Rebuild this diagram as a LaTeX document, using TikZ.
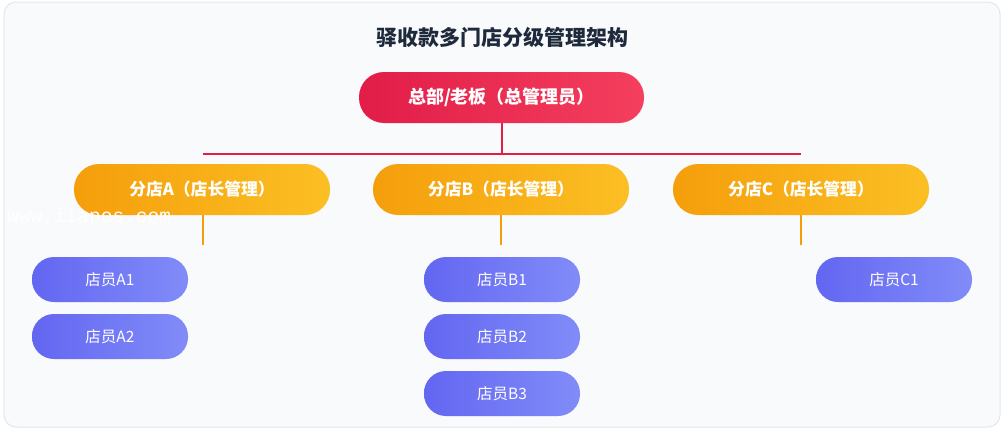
\documentclass[tikz,border=0pt]{standalone}
\usepackage{fontspec}
\setmainfont{Noto Sans CJK SC}
\newfontfamily\wmfont{Liberation Mono}
\definecolor{bgc}{HTML}{F8FAFC}
\definecolor{framec}{HTML}{E2E8F0}
\definecolor{titlec}{HTML}{1E293B}
\definecolor{redA}{HTML}{E11D48}
\definecolor{redB}{HTML}{F43F5E}
\definecolor{orA}{HTML}{F59E0B}
\definecolor{orB}{HTML}{FBBF24}
\definecolor{puA}{HTML}{6366F1}
\definecolor{puB}{HTML}{818CF8}
\tikzset{
  topbox/.style={rectangle, rounded corners=25pt, minimum width=285pt, minimum height=51pt,
    left color=redA, right color=redB, text=white, font=\fontsize{18}{20}\selectfont\bfseries, inner sep=0pt},
  branchbox/.style={rectangle, rounded corners=25pt, minimum width=256pt, minimum height=51pt,
    left color=orA, right color=orB, text=white, font=\fontsize{16.8}{18}\selectfont\bfseries, inner sep=0pt},
  staffbox/.style={rectangle, rounded corners=22pt, minimum width=156pt, minimum height=45pt,
    left color=puA, right color=puB, text=white, font=\fontsize{15.5}{17}\selectfont, inner sep=0pt},
  redline/.style={draw=redA, line width=2pt},
  orline/.style={draw=orA, line width=2pt},
}
\begin{document}
\begin{tikzpicture}[x=1pt,y=-1pt]
\useasboundingbox[fill=white] (0,0) rectangle (1008,439);
\path[draw=framec, fill=bgc, line width=1pt, rounded corners=12pt] (4,2) rectangle (1000,427);
\node[text=titlec, font=\fontsize{21}{23}\selectfont\bfseries] (title) at (502,37) {驿收款多门店分级管理架构};
\node[topbox] (hq) at (501.5,97.5) {\raisebox{-1pt}{总部/老板（总管理员）}};
\node[branchbox] (brA) at (202,189.5) {\raisebox{-1pt}{分店A（店长管理）}};
\node[branchbox] (brB) at (501,189.5) {\raisebox{-1pt}{分店B（店长管理）}};
\node[branchbox] (brC) at (801,189.5) {\raisebox{-1pt}{分店C（店长管理）}};
\coordinate (busL) at (203,154);
\coordinate (busR) at (801,154);
\coordinate (busM) at (hq.south |- busL);
\draw[redline] (hq.south) -- (busM);
\draw[redline] (busL) -- (busR);
\coordinate (endA) at (203,245);
\coordinate (endB) at (501,245);
\coordinate (endC) at (801,245);
\draw[orline] (brA.south -| endA) -- (endA);
\draw[orline] (brB.south -| endB) -- (endB);
\draw[orline] (brC.south -| endC) -- (endC);
\node[staffbox] (a1) at (110,279.5) {\raisebox{-1.5pt}{店员A1}};
\node[staffbox] (a2) at (110,336.5) {\raisebox{-1.5pt}{店员A2}};
\node[staffbox] (b1) at (502,279.5) {\raisebox{-1.5pt}{店员B1}};
\node[staffbox] (b2) at (502,336.5) {\raisebox{-1.5pt}{店员B2}};
\node[staffbox] (b3) at (502,393.5) {\raisebox{-1.5pt}{店员B3}};
\node[staffbox] (c1) at (894,279.5) {\raisebox{-1.5pt}{店员C1}};
\node[anchor=base west, text=white, inner sep=0pt, font=\wmfont\fontsize{19.5}{20}\selectfont] (wm) at (7,222) {www.iiapos.com};
\end{tikzpicture}
\end{document}
